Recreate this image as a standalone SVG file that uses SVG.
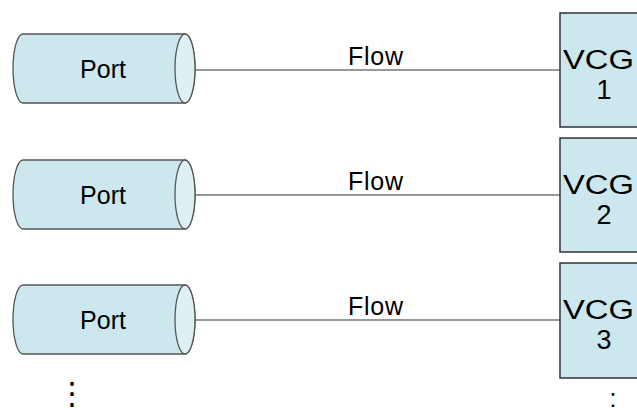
<svg xmlns="http://www.w3.org/2000/svg" width="637" height="410" viewBox="0 0 637 410">
<style>
.body{fill:#cce8ee;stroke:#555;stroke-width:1.3}
.cap{fill:#def0f4;stroke:#555;stroke-width:1.3}
.box{fill:#cce8ee;stroke:#333;stroke-width:1.5}
.conn{stroke:#333;stroke-width:1.2;fill:none}
text{font-family:"Liberation Sans",Arial,sans-serif;font-size:25px;fill:#000}
.v{font-size:27px}
.m{text-anchor:middle}
</style>
<g id="connectors">
<line class="conn" x1="185" y1="70" x2="560" y2="70"/>
<line class="conn" x1="185" y1="195" x2="560" y2="195"/>
<line class="conn" x1="185" y1="320" x2="560" y2="320"/>
<text x="348" y="65" textLength="55">Flow</text>
<text x="348" y="190" textLength="55">Flow</text>
<text x="348" y="315" textLength="55">Flow</text>
</g>
<g id="port1">
<path class="body" d="M23,34 H185 A10,34.5 0 0 1 185,103 H23 A10,34.5 0 0 1 23,34 Z"/>
<ellipse class="cap" cx="185" cy="68.5" rx="10" ry="34.5"/>
<text class="m" x="103" y="78">Port</text>
</g>
<g id="port2">
<path class="body" d="M23,160 H185 A10,34.5 0 0 1 185,229 H23 A10,34.5 0 0 1 23,160 Z"/>
<ellipse class="cap" cx="185" cy="194.5" rx="10" ry="34.5"/>
<text class="m" x="103" y="204">Port</text>
</g>
<g id="port3">
<path class="body" d="M23,285 H185 A10,34.5 0 0 1 185,354 H23 A10,34.5 0 0 1 23,285 Z"/>
<ellipse class="cap" cx="185" cy="319.5" rx="10" ry="34.5"/>
<text class="m" x="103" y="329">Port</text>
</g>
<g id="vcg1">
<rect class="box" x="560" y="13" width="88" height="114"/>
<text class="v" x="563" y="69" textLength="71" lengthAdjust="spacingAndGlyphs">VCG</text>
<text class="v m" x="604" y="99">1</text>
</g>
<g id="vcg2">
<rect class="box" x="560" y="138" width="88" height="114"/>
<text class="v" x="563" y="194" textLength="71" lengthAdjust="spacingAndGlyphs">VCG</text>
<text class="v m" x="604" y="224">2</text>
</g>
<g id="vcg3">
<rect class="box" x="560" y="263" width="88" height="115"/>
<text class="v" x="563" y="319" textLength="71" lengthAdjust="spacingAndGlyphs">VCG</text>
<text class="v m" x="604" y="349">3</text>
</g>
<g id="ellipsis">
<text class="m" x="72" y="404" style="font-family:'DejaVu Sans',sans-serif;font-size:31px">⋮</text>
<text class="m" x="613" y="407" style="font-size:25px">:</text>
</g>
</svg>
